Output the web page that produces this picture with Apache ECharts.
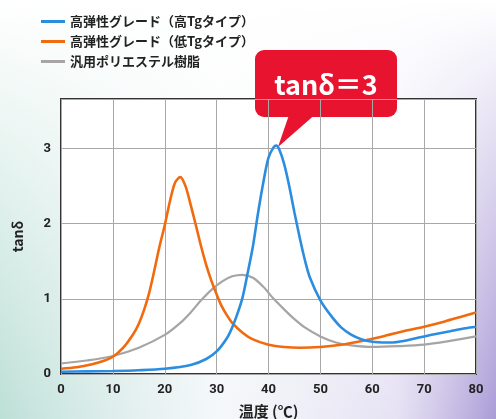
<!DOCTYPE html>
<html><head><meta charset="utf-8">
<script src="https://cdn.jsdelivr.net/npm/echarts@6/dist/echarts.min.js"></script>
<style>html,body{margin:0;padding:0;background:#fff}#c{width:496px;height:419px}</style>
</head><body><div id="c"></div>
<script>
const seriesNames = ['高弹性グレード（高Tgタイプ）', '高弹性グレード（低Tgタイプ）', '汎用ポリエステル樹脂'];
const xTicks = [0, 10, 20, 30, 40, 50, 60, 70, 80];
const yTicks = [0, 1, 2, 3];
const highTg = [[0,0.03],[5,0.035],[10,0.04],[15,0.05],[20,0.07],[25,0.12],[28,0.2],[30,0.3],[32,0.48],[33,0.62],[34,0.8],[35,1.02],[36,1.35],[37,1.7],[38,2.15],[39,2.55],[40,2.88],[41,3.02],[41.5,3.04],[42,3.0],[43,2.8],[44,2.5],[45,2.15],[46,1.82],[47,1.52],[48,1.28],[50,0.98],[52,0.78],[54,0.62],[56,0.52],[58,0.46],[60,0.43],[62,0.42],[64,0.42],[66,0.44],[68,0.47],[70,0.5],[72,0.53],[75,0.57],[78,0.61],[80,0.63]];
const lowTg = [[0,0.07],[3,0.09],[6,0.13],[8,0.17],[10,0.23],[12,0.35],[14,0.54],[15,0.67],[16,0.85],[17,1.08],[18,1.38],[19,1.7],[20,1.98],[21,2.3],[22,2.55],[23,2.62],[24,2.5],[25,2.25],[26,1.98],[27,1.7],[28,1.45],[29,1.24],[30,1.06],[31,0.9],[32,0.78],[33,0.68],[35,0.55],[37,0.46],[40,0.39],[43,0.36],[46,0.35],[50,0.36],[54,0.39],[58,0.44],[62,0.5],[66,0.57],[70,0.63],[74,0.7],[77,0.76],[80,0.82]];
const general = [[0,0.14],[5,0.18],[10,0.24],[15,0.35],[20,0.52],[23,0.68],[25,0.82],[27,0.98],[29,1.12],[31,1.23],[33,1.3],[35,1.32],[37,1.28],[39,1.16],[41,1.0],[43,0.86],[45,0.73],[47,0.62],[50,0.5],[53,0.42],[56,0.38],[60,0.36],[65,0.37],[70,0.39],[75,0.44],[80,0.5]];
const calloutText = 'tanδ＝3';

const chart = echarts.init(document.getElementById('c'));
const FONT = '"Noto Sans CJK JP", "Noto Sans", sans-serif';
const colors = ['#2b8de0', '#f26a0e', '#a5a5a5'];
chart.setOption({
  backgroundColor: '#fff',
  animation: false,
  color: colors,
  textStyle: { fontFamily: FONT },
  graphic: [
    { type: 'rect', z: -10, silent: true, shape: { x: 0, y: 0, width: 496, height: 419 },
      style: { fill: new echarts.graphic.LinearGradient(0, 0, 1, 0, [
        { offset: 0, color: 'rgba(185,222,212,0.95)' },
        { offset: 0.45, color: 'rgba(238,243,246,0.6)' },
        { offset: 0.8, color: 'rgba(222,216,240,0.75)' },
        { offset: 1, color: 'rgba(170,155,215,1)' }]) } },
    { type: 'rect', z: -9, silent: true, shape: { x: 0, y: 0, width: 496, height: 419 },
      style: { fill: new echarts.graphic.LinearGradient(0, 0, 0, 1, [
        { offset: 0, color: 'rgba(255,255,255,1)' },
        { offset: 0.3, color: 'rgba(255,255,255,0.7)' },
        { offset: 1, color: 'rgba(255,255,255,0)' }]) } },
    { type: 'group', z: 100, children: [
      { type: 'polygon', shape: { points: [[290, 112], [318, 112], [278, 147]] }, style: { fill: '#e8132f' } },
      { type: 'rect', shape: { x: 255, y: 50, width: 142, height: 67, r: 9 }, style: { fill: '#e8132f' } },
      { type: 'text', x: 326, y: 85, style: { text: calloutText, fill: '#fff', font: 'bold 27px ' + FONT, align: 'center', verticalAlign: 'middle' } }
    ]}
  ],
  legend: {
    orient: 'vertical', left: 36, top: 10, itemGap: 7, itemWidth: 24, itemHeight: 3,
    icon: 'rect',
    textStyle: { fontSize: 13, fontWeight: 'bold', color: '#222', fontFamily: FONT },
    data: seriesNames
  },
  grid: { left: 61, right: 20, top: 99, bottom: 45, outerBoundsMode: 'none', containLabel: false,
    show: true, backgroundColor: '#fff', borderColor: '#333', borderWidth: 2 },
  xAxis: {
    type: 'value', min: 0, max: 80, interval: 10,
    name: '温度 (℃)', nameLocation: 'middle', nameGap: 30,
    nameTextStyle: { fontSize: 15, fontWeight: 'bold', color: '#222', fontFamily: FONT },
    axisLine: { show: false }, axisTick: { show: false },
    axisLabel: { margin: 9, fontSize: 13, fontWeight: 'bold', color: '#222', fontFamily: 'Roboto, sans-serif',
      formatter: v => xTicks.includes(v) ? String(v) : '' },
    splitLine: { lineStyle: { color: '#a8a8a8', width: 1 } }
  },
  yAxis: {
    type: 'value', min: 0, max: 3.66, interval: 1,
    name: 'tanδ', nameLocation: 'middle', nameGap: 36, nameRotate: 90,
    nameTextStyle: { fontSize: 14, fontWeight: 'bold', color: '#222', fontFamily: FONT },
    axisLine: { show: false }, axisTick: { show: false },
    axisLabel: { margin: 10, fontSize: 13, fontWeight: 'bold', color: '#222', fontFamily: 'Roboto, sans-serif',
      formatter: v => yTicks.includes(v) ? String(v) : '' },
    splitLine: { lineStyle: { color: '#a8a8a8', width: 1 } }
  },
  series: [
    { name: seriesNames[0], type: 'line', data: highTg, smooth: 0.3, showSymbol: false, lineStyle: { width: 2.6 }, z: 4 },
    { name: seriesNames[1], type: 'line', data: lowTg, smooth: 0.3, showSymbol: false, lineStyle: { width: 2.6 }, z: 3 },
    { name: seriesNames[2], type: 'line', data: general, smooth: 0.3, showSymbol: false, lineStyle: { width: 2.2 }, z: 2 }
  ]
});
</script></body></html>
